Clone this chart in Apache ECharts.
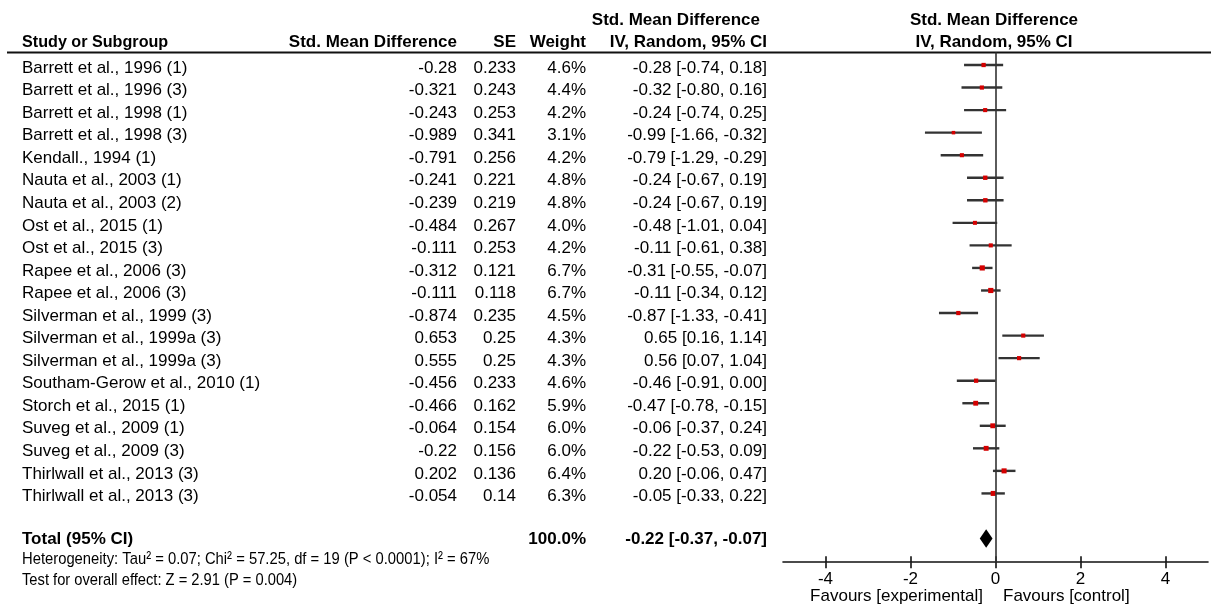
<!DOCTYPE html>
<html>
<head>
<meta charset="utf-8">
<script src="https://cdn.jsdelivr.net/npm/echarts@6/dist/echarts.min.js"></script>
<style>
  html, body { margin: 0; padding: 0; background: #fff; }
  #chart { width: 1211px; height: 607px; }
</style>
</head>
<body>
<div id="chart"></div>
<script>
// Study rows of the forest plot
const studies = [
  'Barrett et al., 1996 (1)', 'Barrett et al., 1996 (3)', 'Barrett et al., 1998 (1)', 'Barrett et al., 1998 (3)',
  'Kendall., 1994 (1)', 'Nauta et al., 2003 (1)', 'Nauta et al., 2003 (2)', 'Ost et al., 2015 (1)',
  'Ost et al., 2015 (3)', 'Rapee et al., 2006 (3)', 'Rapee et al., 2006 (3)', 'Silverman et al., 1999 (3)',
  'Silverman et al., 1999a (3)', 'Silverman et al., 1999a (3)', 'Southam-Gerow et al., 2010 (1)', 'Storch et al., 2015 (1)',
  'Suveg et al., 2009 (1)', 'Suveg et al., 2009 (3)', 'Thirlwall et al., 2013 (3)', 'Thirlwall et al., 2013 (3)'
];
const smd = [-0.28, -0.321, -0.243, -0.989, -0.791, -0.241, -0.239, -0.484, -0.111, -0.312,
             -0.111, -0.874, 0.653, 0.555, -0.456, -0.466, -0.064, -0.22, 0.202, -0.054];
const se = [0.233, 0.243, 0.253, 0.341, 0.256, 0.221, 0.219, 0.267, 0.253, 0.121,
            0.118, 0.235, 0.25, 0.25, 0.233, 0.162, 0.154, 0.156, 0.136, 0.14];
const weight = [4.6, 4.4, 4.2, 3.1, 4.2, 4.8, 4.8, 4.0, 4.2, 6.7,
                6.7, 4.5, 4.3, 4.3, 4.6, 5.9, 6.0, 6.0, 6.4, 6.3];
const ciLow = [-0.74, -0.80, -0.74, -1.66, -1.29, -0.67, -0.67, -1.01, -0.61, -0.55,
               -0.34, -1.33, 0.16, 0.07, -0.91, -0.78, -0.37, -0.53, -0.06, -0.33];
const ciHigh = [0.18, 0.16, 0.25, -0.32, -0.29, 0.19, 0.19, 0.04, 0.38, -0.07,
                0.12, -0.41, 1.14, 1.04, 0.00, -0.15, 0.24, 0.09, 0.47, 0.22];
// Pooled estimate [estimate, lower, upper] and total weight
const totalCI = [-0.22, -0.37, -0.07];
const totalWeight = [100.0];
const xTicks = [-4, -2, 0, 2, 4];

const FONT = '"Liberation Sans", Arial, sans-serif';
const FS = 17;
const INK = '#000';
const TOTAL_ROW = studies.length + 1;

// Column edges of the table
const COL = { name: 22, smd: 457, se: 516, weight: 586, ci: 767 };

function fmtCI(e, l, h) {
  return e.toFixed(2) + ' [' + l.toFixed(2) + ', ' + h.toFixed(2) + ']';
}

function txt(x, y, s, align, bold, sx) {
  const el = {
    type: 'text', x: x, y: y,
    style: {
      text: s, fill: INK, font: (bold ? 'bold ' : '') + FS + 'px ' + FONT,
      align: align, verticalAlign: 'middle'
    }
  };
  if (sx) { el.scaleX = sx; }
  return el;
}

const rowData = studies.map((s, i) => [ciLow[i], ciHigh[i], smd[i], weight[i], i]);

const tickStyle = { color: '#111', width: 1.6 };

const chart = echarts.init(document.getElementById('chart'), null, { renderer: 'canvas' });

chart.setOption({
  animation: false,
  backgroundColor: '#fff',
  grid: { left: 783, width: 425, top: 52.6, height: 509.6 },
  xAxis: [{
    type: 'value', min: -5, max: 5,
    axisLine: { show: true, onZero: false, lineStyle: { color: '#111', width: 1.6 } },
    axisTick: { show: true, length: 6, customValues: xTicks, lineStyle: tickStyle },
    axisLabel: { customValues: xTicks, margin: 9, color: INK, fontSize: FS, fontFamily: FONT },
    splitLine: { show: false }
  }, {
    // inner half of the crossing tick marks
    type: 'value', min: -5, max: 5, position: 'bottom', offset: 0,
    axisLine: { show: false, onZero: false },
    axisTick: { show: true, inside: true, length: 6, customValues: xTicks, lineStyle: tickStyle },
    axisLabel: { show: false },
    splitLine: { show: false }
  }],
  yAxis: { type: 'value', inverse: true, min: -0.55, max: 22.05, show: false },
  series: [
    {
      // Confidence interval whiskers and weighted point estimates
      type: 'custom', name: 'studies', data: rowData,
      renderItem: function (params, api) {
        const lo = api.coord([api.value(0), api.value(4)]);
        const hi = api.coord([api.value(1), api.value(4)]);
        const pt = api.coord([api.value(2), api.value(4)]);
        const side = 2.0 * Math.sqrt(api.value(3));
        return {
          type: 'group', children: [
            { type: 'line', shape: { x1: lo[0], y1: lo[1], x2: hi[0], y2: hi[1] },
              style: { stroke: '#333', lineWidth: 2.4 } },
            { type: 'rect', shape: { x: pt[0] - side / 2, y: pt[1] - side / 2, width: side, height: side },
              style: { fill: '#d40000' } }
          ]
        };
      },
      markLine: {
        silent: true, symbol: 'none', label: { show: false },
        lineStyle: { color: '#333', width: 1.6, type: 'solid' },
        data: [{ xAxis: 0 }]
      },
      z: 3
    },
    {
      // Pooled estimate diamond
      type: 'custom', name: 'total', data: [[totalCI[1], totalCI[2], totalCI[0], TOTAL_ROW]],
      renderItem: function (params, api) {
        const l = api.coord([api.value(0), api.value(3)]);
        const r = api.coord([api.value(1), api.value(3)]);
        const c = api.coord([api.value(2), api.value(3)]);
        const h = 9.3;
        return {
          type: 'polygon',
          shape: { points: [[l[0], c[1]], [c[0], c[1] - h], [r[0], c[1]], [c[0], c[1] + h]] },
          style: { fill: '#000' }
        };
      },
      z: 4
    },
    {
      // Table columns, positioned on the same row scale as the plot
      type: 'custom', name: 'table', clip: false, silent: true,
      data: rowData,
      renderItem: function (params, api) {
        const i = api.value(4);
        const y = api.coord([0, i])[1] + 3;
        return {
          type: 'group', children: [
            txt(COL.name, y, studies[i], 'left'),
            txt(COL.smd, y, String(smd[i]), 'right'),
            txt(COL.se, y, String(se[i]), 'right'),
            txt(COL.weight, y, weight[i].toFixed(1) + '%', 'right'),
            txt(COL.ci, y, fmtCI(smd[i], ciLow[i], ciHigh[i]), 'right')
          ]
        };
      }
    },
    {
      // Total row of the table
      type: 'custom', name: 'totalRow', clip: false, silent: true,
      data: [[TOTAL_ROW]],
      renderItem: function (params, api) {
        const y = api.coord([0, api.value(0)])[1] + 0.5;
        return {
          type: 'group', children: [
            txt(COL.name, y, 'Total (95% CI)', 'left', true),
            txt(COL.weight, y, totalWeight[0].toFixed(1) + '%', 'right', true),
            txt(COL.ci, y, fmtCI(totalCI[0], totalCI[1], totalCI[2]), 'right', true)
          ]
        };
      }
    }
  ],
  graphic: [
    { type: 'line', shape: { x1: 7, y1: 52.5, x2: 1211, y2: 52.5 }, style: { stroke: '#111', lineWidth: 2 } },
    txt(COL.ci - 7, 20.5, 'Std. Mean Difference', 'right', true),
    txt(COL.ci, 42.5, 'IV, Random, 95% CI', 'right', true),
    txt(994, 20.5, 'Std. Mean Difference', 'center', true),
    txt(994, 42.5, 'IV, Random, 95% CI', 'center', true),
    txt(COL.name, 42.5, 'Study or Subgroup', 'left', true, 0.95),
    txt(COL.smd, 42.5, 'Std. Mean Difference', 'right', true),
    txt(COL.se, 42.5, 'SE', 'right', true),
    txt(COL.weight, 42.5, 'Weight', 'right', true),
    txt(COL.name, 559.5, 'Heterogeneity: Tau\u00b2 = 0.07; Chi\u00b2 = 57.25, df = 19 (P < 0.0001); I\u00b2 = 67%', 'left', false, 0.87),
    txt(COL.name, 580.5, 'Test for overall effect: Z = 2.91 (P = 0.004)', 'left', false, 0.865),
    txt(983, 596, 'Favours [experimental]', 'right'),
    txt(1003, 596, 'Favours [control]', 'left')
  ]
});
</script>
</body>
</html>
